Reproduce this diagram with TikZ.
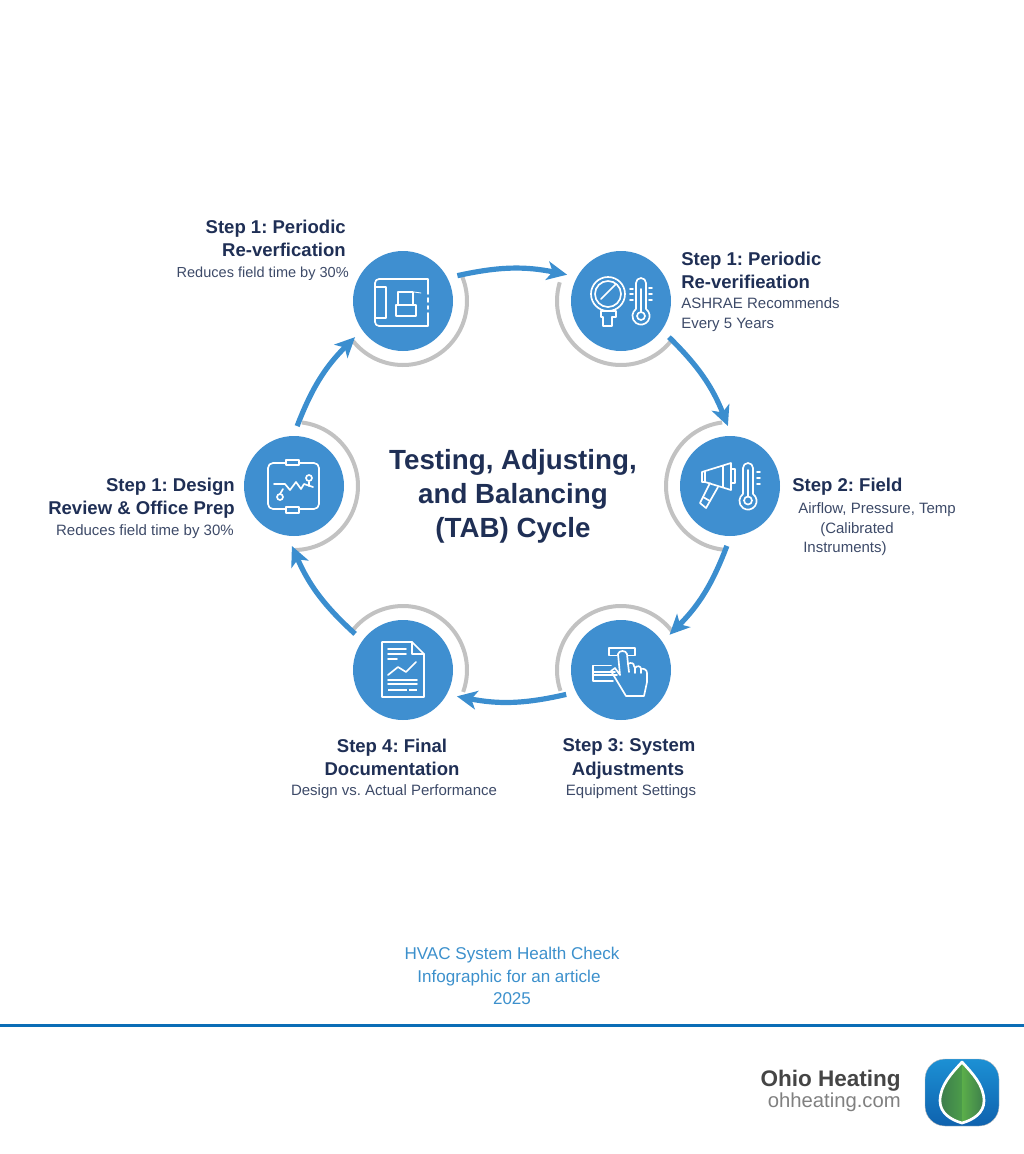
\documentclass[tikz,border=0pt]{standalone}
\usepackage{fontspec}
\setmainfont{Liberation Sans}
\usetikzlibrary{arrows.meta,calc}
\definecolor{disc}{HTML}{3F8FD0}
\definecolor{flowc}{HTML}{3B8ECF}
\definecolor{ringc}{HTML}{C2C2C2}
\definecolor{navy}{HTML}{1F2F55}
\definecolor{subc}{HTML}{3D4A68}
\definecolor{capc}{HTML}{3C90CC}
\definecolor{rulec}{HTML}{0B6DB6}
\definecolor{logotop}{HTML}{1C90D4}
\definecolor{logobot}{HTML}{0F62AE}
\definecolor{leafa}{HTML}{3A7A4C}
\definecolor{leafb}{HTML}{4C9C4A}
\definecolor{leafc}{HTML}{5BAE4A}
\tikzset{
  discnode/.style={circle,fill=disc,draw=none,minimum size=75pt,inner sep=0pt,outer sep=7.5pt},
  flow/.style={draw=flowc,line width=3.9pt,-{Stealth[length=15pt,width=14pt,inset=4pt]},shorten >=0pt},
  ring/.style={draw=ringc,line width=3pt},
  icon/.style={draw=white,line width=1.25pt,line join=round,line cap=round},
  headtxt/.style={inner sep=0pt,text=navy,font=\fontsize{13.9pt}{16pt}\selectfont\bfseries},
  subtxt/.style={inner sep=0pt,text=subc,font=\fontsize{11.25pt}{13pt}\selectfont},
  bigtxt/.style={inner sep=0pt,text=navy,anchor=base,font=\fontsize{20.8pt}{24pt}\selectfont\bfseries},
  captxt/.style={inner sep=0pt,text=capc,anchor=base,font=\fontsize{12.8pt}{15pt}\selectfont}
}
\frenchspacing
\begin{document}
\begin{tikzpicture}[x=0.75pt,y=-0.75pt]
\useasboundingbox (0,0) rectangle (1024,1154);
% discs
\node[discnode] (n1) at (403,301) {};
\node[discnode] (n2) at (621,301) {};
\node[discnode] (n3) at (730,486) {};
\node[discnode] (n4) at (621,670) {};
\node[discnode] (n5) at (403,670) {};
\node[discnode] (n6) at (294,486) {};
% grey rings
\draw[ring,shift={(n1)}] plot[domain=24:-141,samples=60] ({64*cos(\x)},{-64*sin(\x)});
\draw[ring,shift={(n2)}] plot[domain=163:323,samples=60] ({64*cos(\x)},{-64*sin(\x)});
\draw[ring,shift={(n3)}] plot[domain=97:265,samples=60] ({64*cos(\x)},{-64*sin(\x)});
\draw[ring,shift={(n4)}] plot[domain=199:37,samples=60] ({64*cos(\x)},{-64*sin(\x)});
\draw[ring,shift={(n5)}] plot[domain=143:-20,samples=60] ({64*cos(\x)},{-64*sin(\x)});
\draw[ring,shift={(n6)}] plot[domain=83:-89,samples=60] ({64*cos(\x)},{-64*sin(\x)});
% connectors
\draw[flow] (n1.25) to[bend left=12] (n2.154);
\draw[flow] (n2.-37) to[bend left=12] (n3.92);
\draw[flow] (n3.-93) to[bend left=12] (n4.36);
\draw[flow] (n4.204) to[bend left=12] (n5.-26);
\draw[flow] (n5.143) to[bend left=12] (n6.-92);
\draw[flow] (n6.87) to[bend left=12] (n1.217);
% icon 1: plan
\begin{scope}[shift={(n1)},icon]
\draw (25,-7) -- (25,-22) -- (-24,-22) arc[start angle=-90,end angle=-180,radius=4] -- (-28,21) arc[start angle=180,end angle=90,radius=4] -- (25,25) -- (25,12);
\draw (25,-3) -- (25,1) (25,5) -- (25,8);
\draw (-28,-14) -- (-17,-14) -- (-17,17) -- (-28,17);
\draw (-5,4) -- (-5,-9) -- (10,-9) -- (10,4);
\draw (-7,4) rectangle (13,15);
\draw[line width=.6pt] (11,-9) -- (18,-8);
\end{scope}
% icon 2: gauge and thermometer
\begin{scope}[shift={(n2)},icon]
\draw (-13,-7) circle[radius=17];
\draw (-13,-7) circle[radius=13];
\draw (-20,-2) -- (-5,-17);
\draw (-20,10) -- (-5,10) -- (-5,16) -- (-9,16) -- (-9,25) -- (-18,25) -- (-18,16) -- (-20,16) -- cycle;
\draw (15,8) -- (15,-18) arc[start angle=180,end angle=360,radius=5] -- (25,8) arc[start angle=-54.5,end angle=234.5,radius=8.6];
\draw (20,15) circle[radius=4];
\draw (20,-12) -- (20,11);
\draw (9,-12) -- (12,-12) (9,-7) -- (12,-7) (9,-1) -- (12,-1) (28,-13) -- (31,-13) (28,-7) -- (31,-7) (28,-1) -- (31,-1);
\end{scope}
% icon 3: meter and thermometer
\begin{scope}[shift={(n3)},icon]
\draw (-28,-14) -- (1,-23) -- (1,4) -- (-25,-4) -- (-28,-4) -- cycle;
\draw (-25,-14.5) -- (-25,-4);
\draw (-7,-20) -- (-7,1);
\draw (1,-17) -- (5,-17) -- (5,-3) -- (1,-3);
\draw (-20,-3) -- (-30,17) -- (-24,22) -- (-12,1);
\draw (-27,11) -- (-20,15);
\draw (13,8) -- (13,-18) arc[start angle=180,end angle=360,radius=5] -- (23,8) arc[start angle=-54.5,end angle=234.5,radius=8.6];
\draw (18,14.5) circle[radius=4];
\draw (18,-16) -- (18,10);
\draw (27,-14) -- (30,-14) (27,-8) -- (30,-8) (27,-2) -- (30,-2);
\end{scope}
% icon 4: hand
\begin{scope}[shift={(n4)},icon]
\draw (-4,-14.5) -- (-12,-14.5) -- (-12,-22) -- (14,-22) -- (14,-14.5) -- (7,-14.5);
\draw (-10,-4.5) -- (-28,-4.5) -- (-28,11) -- (-8,11);
\draw (-28,2) -- (-6,2) (-28,5) -- (-4,5);
\draw (-10,1) -- (-6,-2) -- (-1,5) -- (-3,-16) .. controls (-2,-20) and (5,-20) .. (6,-16) -- (7,-6) .. controls (10,-8) and (13,-7) .. (13,-4) -- (14,-2) .. controls (16,-5) and (20,-4) .. (20,-1) .. controls (23,-2) and (26,0) .. (26,3) -- (26,12) -- (23,26) -- (5,26) -- cycle;
\draw (7,-6) -- (8,2) (14,-2) -- (14,3) (20,-1) -- (20,3);
\end{scope}
% icon 5: document
\begin{scope}[shift={(n5)},icon]
\draw (9,-28) -- (-21,-28) -- (-21,27) -- (21,27) -- (21,-16) -- cycle;
\draw (9,-28) -- (9,-16) -- (21,-16);
\draw (-15,-21) -- (3,-21) (-15,-16) -- (3,-16) (-15,-11) -- (-6,-11);
\draw (-15,5) -- (-5,-3) -- (3,2) -- (13,-8);
\draw (-15,10) -- (14,10) (-15,14) -- (14,14);
\draw[line width=2pt,line cap=butt,dash pattern=on 14pt off 1.5pt on 14pt off 1pt] (-15,20) -- (14,20);
\end{scope}
% icon 6: circuit
\begin{scope}[shift={(n6)},icon]
\draw (-8,-23) -- (-21,-23) arc[start angle=-90,end angle=-180,radius=5] -- (-26,18) arc[start angle=180,end angle=90,radius=5] -- (-8,23);
\draw (5,23) -- (20,23) arc[start angle=90,end angle=0,radius=5] -- (25,-18) arc[start angle=0,end angle=-90,radius=5] -- (5,-23);
\draw (-8,-26) rectangle (5,-21);
\draw (-8,21) rectangle (5,27);
\draw (-20,-2) -- (-9,-2) -- (-4,4) -- (2,-4) -- (7,3) -- (10,-2) -- (19,1);
\draw (-14,11) circle[radius=3];
\draw (-14,8) -- (-11,3);
\draw (15,-8) circle[radius=3];
\draw (15,-4) -- (15,0);
\end{scope}
% labels
\node[headtxt,anchor=base east] (a1) at (346,233) {Step 1: Periodic};
\node[headtxt,anchor=base east] (a2) at (346,256) {Re-verfication};
\node[subtxt,anchor=base east,font=\fontsize{10.9pt}{13pt}\selectfont] (a3) at (349,277) {Reduces field time by 30\%};
\node[headtxt,anchor=base west] (b1) at (681,265) {Step 1: Periodic};
\node[headtxt,anchor=base west] (b2) at (681,288) {Re-verifieation};
\node[subtxt,anchor=base west] (b3) at (681,308) {ASHRAE Recommends};
\node[subtxt,anchor=base west] (b4) at (681,328) {Every 5 Years};
\node[headtxt,anchor=base west] (c1) at (792,491) {Step 2: Field};
\node[subtxt,anchor=base west] (c2) at (798,513) {Airflow, Pressure, Temp};
\node[subtxt,anchor=base west] (c3) at (820,533) {(Calibrated};
\node[subtxt,anchor=base west] (c4) at (803,552) {Instruments)};
\node[headtxt,anchor=base] (d1) at (629,751) {Step 3: System};
\node[headtxt,anchor=base] (d2) at (628,775) {Adjustments};
\node[subtxt,anchor=base] (d3) at (631,795) {Equipment Settings};
\node[headtxt,anchor=base] (e1) at (392,752) {Step 4: Final};
\node[headtxt,anchor=base] (e2) at (392,775) {Documentation};
\node[subtxt,anchor=base] (e3) at (394,795) {Design vs. Actual Performance};
\node[headtxt,anchor=base east] (f1) at (235,491) {Step 1: Design};
\node[headtxt,anchor=base east] (f2) at (235,514) {Review \& Office Prep};
\node[subtxt,anchor=base east] (f3) at (234,535) {Reduces field time by 30\%};
\node[bigtxt] (t1) at (513,469) {Testing, Adjusting,};
\node[bigtxt] (t2) at (513,503) {and Balancing};
\node[bigtxt] (t3) at (513,537) {(TAB) Cycle};
\node[captxt] (k1) at (512,959) {HVAC System Health Check};
\node[captxt] (k2) at (509,982) {Infographic for an article};
\node[captxt] (k3) at (512,1004) {2025};
% footer
\fill[rulec] (0,1024) rectangle (1024,1027);
\node[inner sep=0pt,anchor=base east,text=black!73,font=\fontsize{16.9pt}{20pt}\selectfont\bfseries] (o1) at (901,1086) {Ohio Heating};
\node[inner sep=0pt,anchor=base east,text=black!50,font=\fontsize{15.2pt}{18pt}\selectfont] (o2) at (901,1107) {ohheating.com};
\shade[top color=logotop,bottom color=logobot,rounded corners=15pt,draw=black!25,line width=.3pt] (925,1059) rectangle (999,1126);
\coordinate (tip) at (962,1062);
\coordinate (toe) at (962,1123);
\begin{scope}
\clip (tip) .. controls (952,1073) and (940,1085) .. (940,1101) .. controls (940,1113) and (951,1120) .. (toe) -- cycle;
\shade[left color=leafa,right color=leafb] (938,1060) rectangle (962,1125);
\end{scope}
\begin{scope}
\clip (tip) .. controls (972,1073) and (984,1085) .. (984,1101) .. controls (984,1113) and (973,1120) .. (toe) -- cycle;
\shade[left color=leafc,right color=leafa] (962,1060) rectangle (986,1125);
\end{scope}
\draw[white,line width=2pt,line join=round] (tip) .. controls (952,1073) and (940,1085) .. (940,1101) .. controls (940,1113) and (951,1120) .. (toe) .. controls (973,1120) and (984,1113) .. (984,1101) .. controls (984,1085) and (972,1073) .. (tip) -- cycle;
\end{tikzpicture}
\end{document}
